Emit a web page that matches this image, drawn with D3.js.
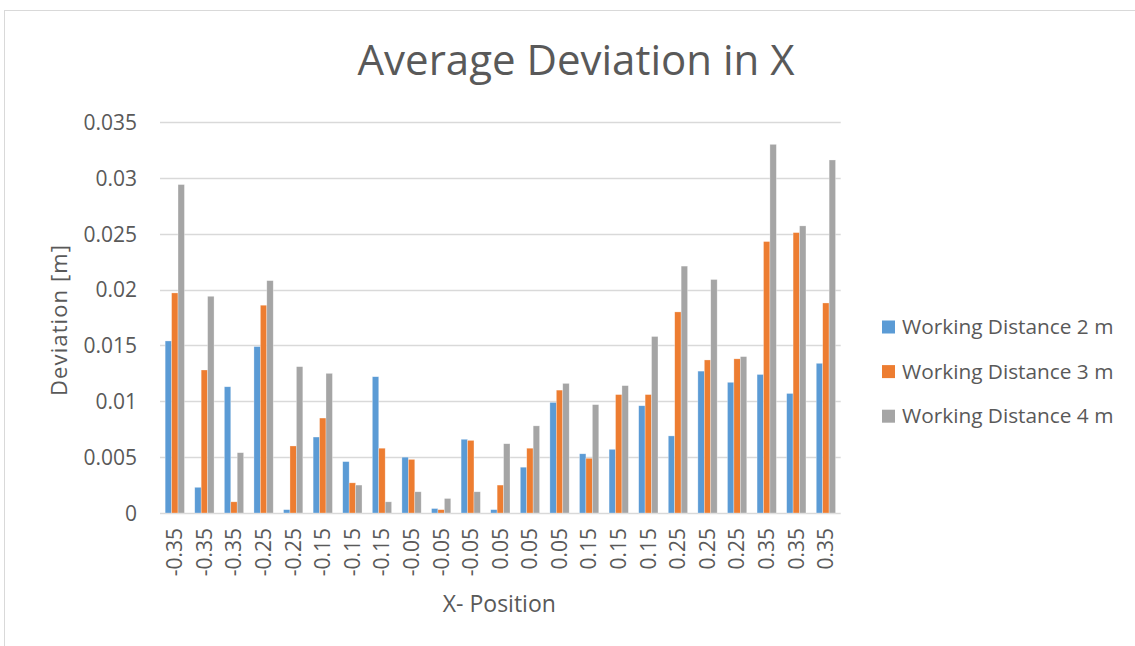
<!DOCTYPE html>
<html>
<head>
<meta charset="utf-8">
<script src="https://cdn.jsdelivr.net/npm/d3@7"></script>
<style>
  html, body { margin: 0; padding: 0; background: #ffffff; }
  svg { display: block; font-family: "Open Sans", sans-serif; }
</style>
</head>
<body>
<svg id="chart" width="1135" height="646"></svg>
<script>
// Category labels along the x axis (measurement positions)
const positions = ["-0.35","-0.35","-0.35","-0.25","-0.25","-0.15","-0.15","-0.15",
  "-0.05","-0.05","-0.05","0.05","0.05","0.05","0.15","0.15","0.15",
  "0.25","0.25","0.25","0.35","0.35","0.35"];

const seriesNames = ["Working Distance 2 m", "Working Distance 3 m", "Working Distance 4 m"];

// Average deviation [m] per position for each working distance
const dist2m = [0.0154, 0.0023, 0.0113, 0.0149, 0.0003, 0.0068, 0.0046, 0.0122,
  0.0050, 0.0004, 0.0066, 0.0003, 0.0041, 0.0099, 0.0053, 0.0057, 0.0096,
  0.0069, 0.0127, 0.0117, 0.0124, 0.0107, 0.0134];
const dist3m = [0.0197, 0.0128, 0.0010, 0.0186, 0.0060, 0.0085, 0.0027, 0.0058,
  0.0048, 0.0003, 0.0065, 0.0025, 0.0058, 0.0110, 0.0049, 0.0106, 0.0106,
  0.0180, 0.0137, 0.0138, 0.0243, 0.0251, 0.0188];
const dist4m = [0.0294, 0.0194, 0.0054, 0.0208, 0.0131, 0.0125, 0.0025, 0.0010,
  0.0019, 0.0013, 0.0019, 0.0062, 0.0078, 0.0116, 0.0097, 0.0114, 0.0158,
  0.0221, 0.0209, 0.0140, 0.0330, 0.0257, 0.0316];

const yTicks = [0, 0.005, 0.01, 0.015, 0.02, 0.025, 0.03, 0.035];
const colors = ["#5B9BD5", "#ED7D31", "#A5A5A5"];

const series = [dist2m, dist3m, dist4m];
const rows = positions.map((p, i) => ({ idx: i, label: p, values: series.map(s => s[i]) }));

const svg = d3.select("#chart");
const textColor = "#595959";
const gridColor = "#D9D9D9";

// Chart frame
svg.append("rect")
  .attr("x", 4.5).attr("y", 10.5)
  .attr("width", 1200).attr("height", 700)
  .attr("fill", "none").attr("stroke", gridColor).attr("stroke-width", 1);

const plot = { left: 160, right: 840.7, top: 122, bottom: 513 };

const x0 = d3.scaleBand()
  .domain(d3.range(positions.length))
  .range([plot.left, plot.right])
  .paddingInner(0.348)
  .paddingOuter(0.174);

const x1 = d3.scaleBand()
  .domain(d3.range(series.length))
  .range([0, x0.bandwidth()]);

const y = d3.scaleLinear().domain([0, 0.035]).range([plot.bottom, plot.top]);

// Gridlines
svg.append("g")
  .selectAll("line")
  .data(yTicks)
  .join("line")
  .attr("x1", plot.left).attr("x2", plot.right)
  .attr("y1", d => Math.round(y(d)) + 0.5).attr("y2", d => Math.round(y(d)) + 0.5)
  .attr("stroke", gridColor).attr("stroke-width", 1.3);

// Y axis labels
const yAxis = d3.axisLeft(y).tickValues(yTicks).tickSize(0).tickPadding(0)
  .tickFormat(d => d === 0 ? "0" : String(+d.toFixed(3)));
svg.append("g")
  .attr("transform", `translate(137,0)`)
  .call(yAxis)
  .call(g => g.select(".domain").remove())
  .call(g => g.selectAll("text")
    .attr("fill", textColor)
    .attr("font-size", "21px")
    .attr("font-family", "Open Sans, sans-serif")
    .attr("dy", "0.35em"));

// Bars
const groups = svg.append("g")
  .selectAll("g")
  .data(rows)
  .join("g")
  .attr("transform", d => `translate(${x0(d.idx)},0)`);

groups.selectAll("rect")
  .data(d => d.values.map((v, k) => ({ k, v })))
  .join("rect")
  .attr("x", d => x1(d.k))
  .attr("y", d => y(d.v))
  .attr("width", x1.bandwidth())
  .attr("height", d => y(0) - y(d.v))
  .attr("fill", d => colors[d.k])
  .attr("stroke", "#ffffff")
  .attr("stroke-opacity", 0.5)
  .attr("stroke-width", 0.6);

// X axis labels (rotated)
const xAxis = d3.axisBottom(x0).tickSize(0).tickPadding(0)
  .tickFormat(i => positions[i]);
svg.append("g")
  .attr("transform", `translate(0,${plot.bottom})`)
  .call(xAxis)
  .call(g => g.select(".domain").remove())
  .call(g => g.selectAll("text")
    .attr("fill", textColor)
    .attr("font-size", "21px")
    .attr("font-family", "Open Sans, sans-serif")
    .attr("text-anchor", "end")
    .attr("transform", "rotate(-90)")
    .attr("x", -15)
    .attr("y", 0)
    .attr("dy", "0.35em"));

// Title
svg.append("text")
  .attr("x", 576).attr("y", 75)
  .attr("text-anchor", "middle")
  .attr("fill", textColor)
  .attr("font-size", "42px")
  .text("Average Deviation in X");

// Axis titles
svg.append("text")
  .attr("transform", `translate(67,${(plot.top + plot.bottom) / 2 + 3}) rotate(-90)`)
  .attr("text-anchor", "middle")
  .attr("fill", textColor)
  .attr("font-size", "22px")
  .attr("textLength", 151)
  .attr("lengthAdjust", "spacing")
  .text("Deviation [m]");

svg.append("text")
  .attr("x", (plot.left + plot.right) / 2 - 1).attr("y", 612)
  .attr("text-anchor", "middle")
  .attr("fill", textColor)
  .attr("font-size", "23px")
  .text("X- Position");

// Legend
const legend = svg.append("g")
  .selectAll("g")
  .data(seriesNames)
  .join("g")
  .attr("transform", (d, i) => `translate(882,${327 + i * 44.6})`);
legend.append("rect")
  .attr("x", 0).attr("y", -6.5)
  .attr("width", 13).attr("height", 13)
  .attr("fill", (d, i) => colors[i]);
legend.append("text")
  .attr("x", 20).attr("y", 0).attr("dy", "0.35em")
  .attr("fill", textColor)
  .attr("font-size", "20.8px")
  .text(d => d);
</script>
</body>
</html>
